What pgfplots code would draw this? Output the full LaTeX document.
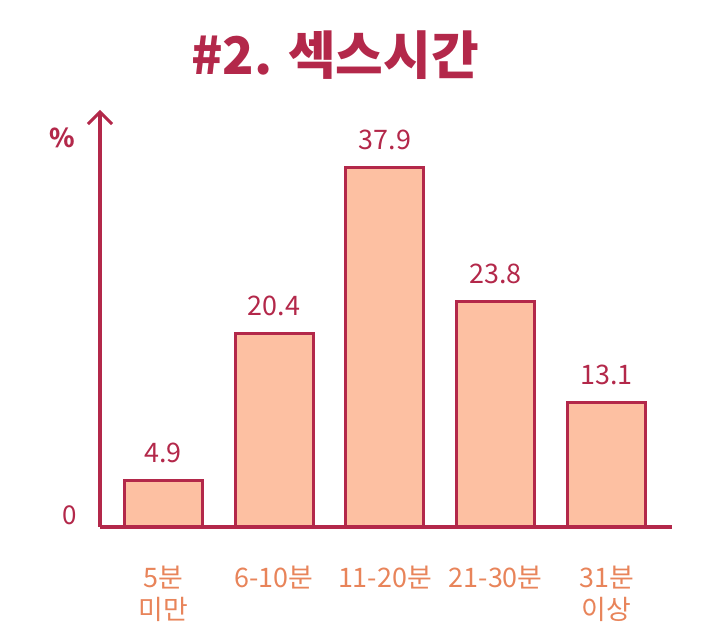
\documentclass[border=0pt]{standalone}
\usepackage{fontspec}
\setmainfont{Noto Sans CJK KR}
\usepackage{pgfplots}
\pgfplotsset{compat=1.18}
\usetikzlibrary{arrows.meta}
\definecolor{crim}{HTML}{B3284A}
\definecolor{peach}{HTML}{FDC0A2}
\definecolor{orng}{HTML}{E8845A}
\begin{document}
\begin{tikzpicture}[x=1bp,y=1bp]
\useasboundingbox (0,0) rectangle (720,641);
\begin{axis}[
  at={(100bp,114bp)}, anchor=south west,
  scale only axis, width=572bp, height=417bp,
  xmin=-0.57, xmax=4.59, ymin=0, ymax=44,
  axis lines=left,
  axis line style={crim, line width=3.2bp},
  y axis line style={-{Straight Barb[length=12bp,width=24bp,line width=3bp]}},
  x axis line style={-},
  xtick={0,1,2,3,4},
  xticklabels={{5분\\미만},{6-10분},{11-20분},{21-30분},{31분\\이상}},
  x tick label style={text=orng, font=\fontsize{27}{32}\selectfont, align=center, anchor=north, yshift=-36bp},
  ytick={0},
  y tick label style={text=crim, font=\fontsize{26}{30}\selectfont, xshift=-20bp, yshift=12bp},
  /pgf/number format/assume math mode=true,
  major tick length=0pt,
  ybar, bar width=78bp,
  nodes near coords,
  nodes near coords style={text=crim, font=\fontsize{27}{30}\selectfont, anchor=south, yshift=13bp},
  point meta=explicit symbolic,
  clip=false,
]
\addplot[fill=peach, draw=crim, line width=3bp] coordinates {
  (0,4.9) [4.9] (1,20.4) [20.4] (2,37.9) [37.9] (3,23.8) [23.8] (4,13.1) [13.1]
};
\end{axis}
\node[text=crim, font=\fontsize{52}{56}\selectfont\bfseries] at (335,586) {\#2. 섹스시간};
\node[text=crim, font=\fontsize{26}{30}\selectfont\bfseries] at (62,503) {\%};
\end{tikzpicture}
\end{document}
